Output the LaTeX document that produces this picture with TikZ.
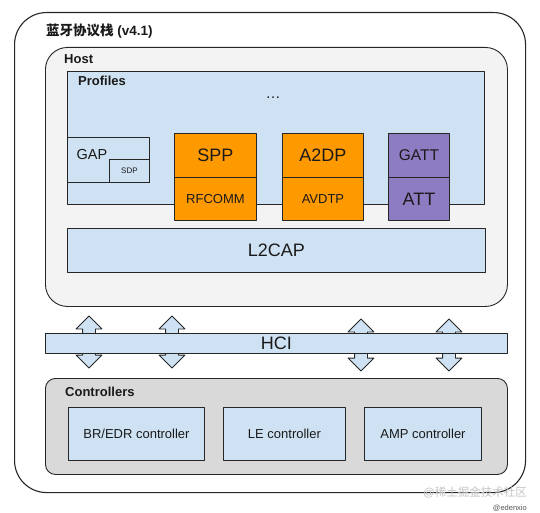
\documentclass[tikz,border=0pt]{standalone}
\usepackage{fontspec}
\setmainfont{Liberation Sans}
\newfontfamily\cjk{Noto Sans CJK SC}
\usetikzlibrary{positioning,shapes.arrows}
\definecolor{ink}{HTML}{1A1A1A}
\definecolor{edge}{HTML}{262626}
\definecolor{hostgray}{HTML}{F3F3F3}
\definecolor{ctrlgray}{HTML}{D9D9D9}
\definecolor{paleblue}{HTML}{CFE2F3}
\definecolor{gorange}{HTML}{FF9900}
\definecolor{gpurple}{HTML}{8E7CC3}
\definecolor{wmgray}{HTML}{C4C4C4}
\newcommand{\pxsize}[1]{\fontsize{#1}{#1}\selectfont}

\begin{document}
\begin{tikzpicture}[x=1pt, y=-1pt, line join=round,
  blk/.style={draw=edge, line width=0.9pt, anchor=north west, inner sep=0pt,
              text=ink, align=center},
  grp/.style={blk, rounded corners=#1},
  tag/.style={anchor=west, inner sep=0pt, font=\bfseries\pxsize{13}, text=ink},
  hub/.style={double arrow, shape border rotate=90, draw=edge, line width=0.9pt,
              fill=paleblue, inner sep=6pt, minimum width=25pt,
              minimum height=52pt, double arrow head extend=6.5pt},
]
\useasboundingbox (0,0) rectangle (540,513);
\node[grp=32pt, fill=white, line width=1.1pt, minimum width=511pt,
  minimum height=480pt] (stack) at (14,12) {};
\node[tag, font=\bfseries\pxsize{13.5}] (title) at (46,31) {{\cjk 蓝牙协议栈} (v4.1)};

\node[grp=22pt, fill=hostgray, minimum width=462pt, minimum height=259pt] (host) at (45,47) {};
\node[tag] (hostl) at (64,59) {Host};
\node[blk, fill=paleblue, minimum width=417pt, minimum height=133pt] (prof) at (67,71) {};
\node[tag] (profl) at (78,81) {Profiles};
\node[font=\pxsize{15}, text=ink, inner sep=0pt] (more) at (273,98) {…};
\node[blk, fill=paleblue, minimum width=82pt, minimum height=45pt] (gap) at (67,137) {};
\node[font=\pxsize{14.5}, text=ink, inner sep=0pt] (gapl) at (92,155) {GAP};
\node[blk, fill=paleblue, minimum width=40pt, minimum height=23pt,
  font=\pxsize{8}] (sdp) at (109,159) {SDP};
\node[blk, fill=gorange, minimum width=82pt, minimum height=44pt, font=\pxsize{18}] (spp) at (174,133) {SPP};
\node[blk, fill=gorange, minimum width=82pt, minimum height=43pt, font=\pxsize{13}] (rfcomm) at (174,177) {RFCOMM};
\node[blk, fill=gorange, minimum width=81pt, minimum height=44pt, font=\pxsize{18}] (a2dp) at (282,133) {A2DP};
\node[blk, fill=gorange, minimum width=81pt, minimum height=43pt, font=\pxsize{13}] (avdtp) at (282,177) {AVDTP};
\node[blk, fill=gpurple, minimum width=61pt, minimum height=44pt, font=\pxsize{15.5}] (gatt) at (388,133) {GATT};
\node[blk, fill=gpurple, minimum width=61pt, minimum height=43pt, font=\pxsize{18}] (att) at (388,177) {ATT};
\node[blk, fill=paleblue, minimum width=418pt, minimum height=44pt, font=\pxsize{18}] (l2cap) at (67,228) {L2CAP};

\foreach \x/\y [count=\i] in {89/342, 172/342, 361/345, 449/345}
  \node[hub] (link\i) at (\x,\y) {};
\node[blk, fill=paleblue, minimum width=462pt, minimum height=20pt, font=\pxsize{18}] (hci) at (45,333) {HCI};

\node[grp=10pt, fill=ctrlgray, minimum width=462pt, minimum height=96pt] (ctrl) at (45,378) {};
\node[tag] (ctrll) at (65,392) {Controllers};
\node[blk, fill=paleblue, minimum width=136pt, minimum height=53pt, font=\pxsize{13}] (bredr) at (68,407) {BR/EDR controller};
\node[blk, fill=paleblue, minimum width=122pt, minimum height=53pt, font=\pxsize{13}] (le) at (223,407) {LE controller};
\node[blk, fill=paleblue, minimum width=117pt, minimum height=53pt, font=\pxsize{13}] (amp) at (364,407) {AMP controller};

\node[anchor=east, inner sep=0pt, text=wmgray, font=\pxsize{11.5}] (wm) at (527,492) {@{\cjk 稀土掘金技术社区}};
\node[anchor=east, inner sep=0pt, text=ink!75, font=\pxsize{7.5}] (wmname) at (527,508) {@edenxio};
\end{tikzpicture}
\end{document}
